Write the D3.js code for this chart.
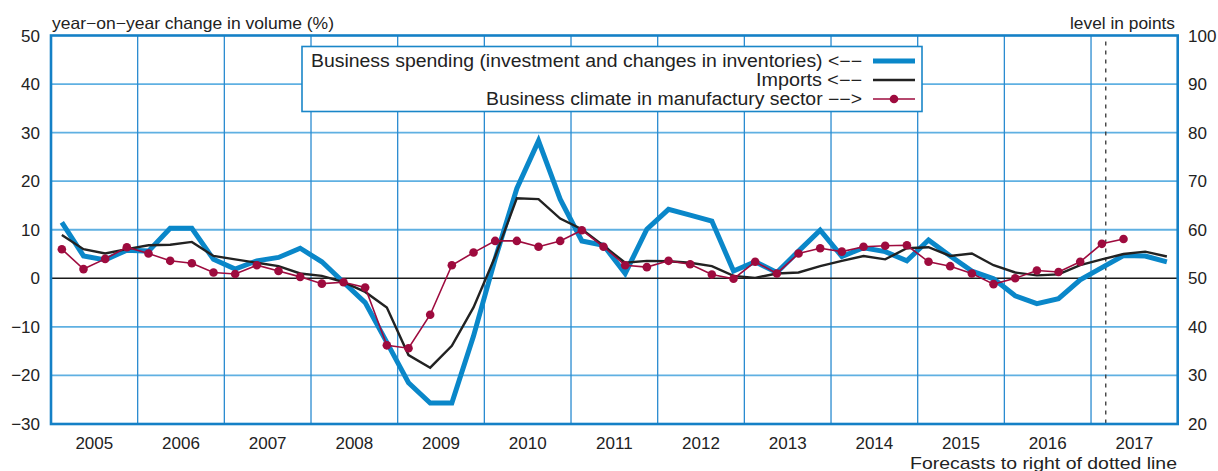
<!DOCTYPE html>
<html><head><meta charset="utf-8">
<script src="https://cdn.jsdelivr.net/npm/d3@7"></script>
<style>
body{margin:0;background:#fff;}
svg{display:block;font-family:"Liberation Sans",Arial,Helvetica,sans-serif;}
</style></head>
<body><svg id="c" width="1218" height="471"></svg>
<script>
// ---- data ----
const years = [2005,2006,2007,2008,2009,2010,2011,2012,2013,2014,2015,2016,2017];
const quarters = [];
years.forEach(y => [1,2,3,4].forEach(q => quarters.push(y + "Q" + q)));
const businessSpending = [11.5,4.6,3.8,5.8, 5.6,10.3,10.3,3.9, 1.9,3.6,4.3,6.2, 3.4,-0.8,-5.0,-13.2,
  -21.5,-25.7,-25.7,-11.9, 4.0,18.5,28.3,16.3, 7.7,6.8,1.0,10.1, 14.2,13.0,11.8,1.5,
  3.4,1.2,5.6,9.9, 4.5,6.3,5.5,3.6, 7.9,4.6,1.5,-0.1, -3.6,-5.2,-4.2,-0.3, 2.2,4.7,4.6,3.4];
const imports = [8.9,6.0,5.1,6.0, 6.8,6.9,7.5,4.6, 3.9,3.2,2.5,1.0, 0.5,-0.8,-2.8,-6.0,
  -15.8,-18.4,-13.9,-6.0, 4.5,16.5,16.3,12.3, 10.1,6.7,3.2,3.6, 3.5,3.2,2.5,0.5,
  0.1,1.0,1.2,2.5, 3.6,4.6,3.9,6.2, 6.4,4.6,5.1,2.7, 1.2,0.6,0.8,2.7, 3.9,5.0,5.5,4.5];
const businessClimate = [56.0,51.9,54.0,56.4, 55.1,53.6,53.1,51.2, 50.9,52.7,51.5,50.3, 48.9,49.2,48.1,36.2,
  35.6,42.5,52.7,55.3, 57.7,57.7,56.5,57.7, 59.9,56.5,52.7,52.3, 53.6,52.9,50.8,49.9,
  53.4,51.0,55.1,56.2, 55.5,56.5,56.7,56.8, 53.4,52.5,51.0,48.8, 50.0,51.6,51.3,53.4, 57.1,58.1];
const leftTicks = [50,40,30,20,10,0,-10,-20,-30];
const rightTicks = [100,90,80,70,60,50,40,30,20];
const forecastStart = 2017.17;
const legendLabels = ["Business spending (investment and changes in inventories) <−−","Imports <−−","Business climate in manufactury sector −−>"];

// ---- layout ----
const svg = d3.select("#c");
const L = 51, R = 1177.7, T = 35.5, B = 424;
const x = d3.scaleLinear().domain([2005, 2018]).range([L, R]);
const yL = d3.scaleLinear().domain([-30, 50]).range([B, T]);
const yR = d3.scaleLinear().domain([20, 100]).range([B, T]);
const qx = i => x(2005 + (i + 0.5) / 4);

// grid horizontal
svg.append("g").selectAll("line").data(leftTicks.filter(d => d !== 50 && d !== -30 && d !== 0)).join("line")
  .attr("x1", L).attr("x2", R).attr("y1", d => yL(d)).attr("y2", d => yL(d))
  .attr("stroke", "#5fb0e2").attr("stroke-width", 1.8);
// grid vertical
svg.append("g").selectAll("line").data(d3.range(2006, 2018)).join("line")
  .attr("x1", d => x(d)).attr("x2", d => x(d)).attr("y1", T).attr("y2", B)
  .attr("stroke", "#2a8bd0").attr("stroke-width", 1.3);
// zero line
svg.append("line").attr("x1", L).attr("x2", R).attr("y1", yL(0)).attr("y2", yL(0))
  .attr("stroke", "#1a1a1a").attr("stroke-width", 1.6);
// forecast dotted line
svg.append("line").attr("x1", x(forecastStart)).attr("x2", x(forecastStart)).attr("y1", T + 6).attr("y2", B)
  .attr("stroke", "#333").attr("stroke-width", 1.3).attr("stroke-dasharray", "4,5");

// series
const lineL = d3.line().x((d, i) => qx(i)).y(d => yL(d));
const lineR = d3.line().x((d, i) => qx(i)).y(d => yR(d));
svg.append("path").attr("d", lineL(businessSpending)).attr("fill", "none")
  .attr("stroke", "#0a87c9").attr("stroke-width", 5);
svg.append("path").attr("d", lineL(imports)).attr("fill", "none")
  .attr("stroke", "#222").attr("stroke-width", 2.4);
svg.append("path").attr("d", lineR(businessClimate)).attr("fill", "none")
  .attr("stroke", "#9e0b3e").attr("stroke-width", 1.6);
svg.append("g").selectAll("circle").data(businessClimate).join("circle")
  .attr("cx", (d, i) => qx(i)).attr("cy", d => yR(d)).attr("r", 4.3).attr("fill", "#9e0b3e");

// border
svg.append("rect").attr("x", L).attr("y", T).attr("width", R - L).attr("height", B - T)
  .attr("fill", "none").attr("stroke", "#1480c6").attr("stroke-width", 2.6);

// left axis labels
svg.append("g").selectAll("text").data(leftTicks).join("text")
  .attr("x", 40).attr("y", d => yL(d) + 6).attr("text-anchor", "end")
  .attr("font-size", 17).attr("fill", "#222").text(d => d < 0 ? "−" + Math.abs(d) : d);
// right axis labels
svg.append("g").selectAll("text").data(rightTicks).join("text")
  .attr("x", 1188).attr("y", d => yR(d) + 6).attr("text-anchor", "start")
  .attr("font-size", 17).attr("fill", "#222").text(d => d);
// year labels
svg.append("g").selectAll("text").data(years).join("text")
  .attr("x", d => x(d + 0.5)).attr("y", 448.5).attr("text-anchor", "middle")
  .attr("font-size", 17).attr("fill", "#222").text(d => d);

function fitText(sel, w) {
  sel.attr("textLength", w).attr("lengthAdjust", "spacingAndGlyphs");
}
// axis titles
fitText(svg.append("text").attr("x", 52).attr("y", 28.5).attr("font-size", 16.5).attr("fill", "#222")
  .text("year−on−year change in volume (%)"), 282);
fitText(svg.append("text").attr("x", 1070).attr("y", 28.5).attr("font-size", 16.5).attr("fill", "#222")
  .text("level in points"), 105);
fitText(svg.append("text").attr("x", 910).attr("y", 468.5).attr("font-size", 17).attr("fill", "#222")
  .text("Forecasts to right of dotted line"), 267);

// legend
const lg = svg.append("g");
lg.append("rect").attr("x", 302).attr("y", 46.5).attr("width", 620).attr("height", 65)
  .attr("fill", "#fff").attr("stroke", "#1a86c8").attr("stroke-width", 1.6);
const rowY = [61, 80, 99];
const textW = [551, 106, 376];
legendLabels.forEach((t, i) => {
  fitText(lg.append("text").attr("x", 862 - textW[i]).attr("y", rowY[i] + 6.3).attr("font-size", 17.5)
    .attr("fill", "#222").text(t), textW[i]);
});
lg.append("line").attr("x1", 873).attr("x2", 915).attr("y1", rowY[0]).attr("y2", rowY[0])
  .attr("stroke", "#0a87c9").attr("stroke-width", 5);
lg.append("line").attr("x1", 873).attr("x2", 915).attr("y1", rowY[1]).attr("y2", rowY[1])
  .attr("stroke", "#222").attr("stroke-width", 2.4);
lg.append("line").attr("x1", 873).attr("x2", 915).attr("y1", rowY[2]).attr("y2", rowY[2])
  .attr("stroke", "#9e0b3e").attr("stroke-width", 1.6);
lg.append("circle").attr("cx", 894).attr("cy", rowY[2]).attr("r", 4.3).attr("fill", "#9e0b3e");
</script></body></html>
